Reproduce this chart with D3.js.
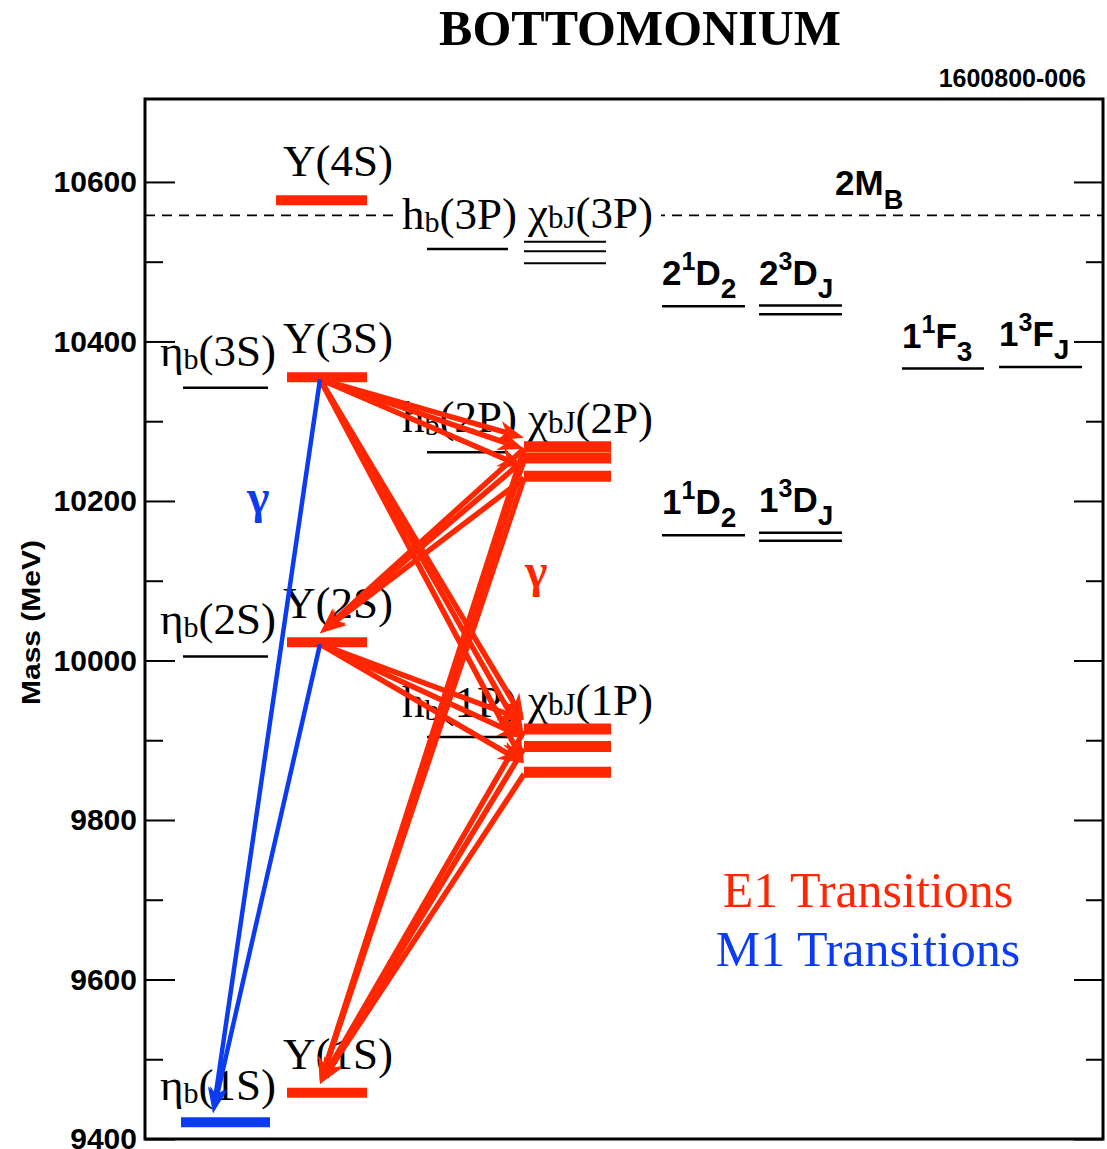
<!DOCTYPE html>
<html>
<head>
<meta charset="utf-8">
<script src="https://cdn.jsdelivr.net/npm/d3@7"></script>
<style>
  html, body { margin: 0; padding: 0; background: #fff; }
  svg { display: block; }
</style>
</head>
<body>
<svg id="chart" width="1107" height="1149"></svg>
<script>
// ---- Level masses (MeV) ----
const upsilonLevels = [["4S", 10577], ["3S", 10355], ["2S", 10023], ["1S", 9458]];
const etaLevels     = [["3S", 10342], ["2S", 10005], ["1S", 9421]];
const hbLevels      = [["3P", 10516], ["2P", 10261], ["1P", 9904]];
const chiLevels     = [["3P", [10525, 10513, 10498]], ["2P", [10268, 10254, 10231]], ["1P", [9914, 9892, 9860]]];
const dfSinglets    = [["2", "D", "2", 10444], ["1", "D", "2", 10157], ["1", "F", "3", 10366]];
const dfTriplets    = [["2", "D", [10445, 10434]], ["1", "D", [10160, 10150]], ["1", "F", [10368]]];
const threshold2MB  = 10558;

// ---- Radiative transitions ----
const e1Transitions = [
  ["Υ(3S)", "χbJ(2P)"], ["Υ(3S)", "χbJ(1P)"],
  ["χbJ(2P)", "Υ(2S)"], ["χbJ(2P)", "Υ(1S)"],
  ["Υ(2S)", "χbJ(1P)"], ["χbJ(1P)", "Υ(1S)"]
];
const m1Transitions = [["Υ(3S)", "ηb(1S)"], ["Υ(2S)", "ηb(1S)"]];

// ---- Axis ticks ----
const majorTicks = [9400, 9600, 9800, 10000, 10200, 10400, 10600];
const minorTicks = [9500, 9700, 9900, 10100, 10300, 10500];

// ---- Layout & styles ----
const RED = "#ff2600", BLUE = "#0b3cf2";
const SERIF = "'Liberation Serif', 'Times New Roman', serif";
const SANS = "'Liberation Sans', Arial, Helvetica, sans-serif";
const LABEL_SIZE = 45;
const frame = { left: 145, right: 1103, top: 99, bottom: 1139 };
const cols = {
  eta: { x0: 183, x1: 268, attach: 213 },
  ups: { x0: 287, x1: 367, attach: 320 },
  hb:  { x0: 427, x1: 508 },
  chi: { x0: 524, x1: 611, attach: 524 },
  D1:  { x0: 662, x1: 745 }, D3: { x0: 759, x1: 842 },
  F1:  { x0: 902, x1: 984 }, F3: { x0: 999, x1: 1082 }
};

const svg = d3.select("#chart");
const y = d3.scaleLinear().domain([9400, 10704]).range([frame.bottom, frame.top]);

// ---- Title and plot id ----
svg.append("text").attr("x", 640).attr("y", 45).attr("text-anchor", "middle")
  .attr("font-family", SERIF).attr("font-weight", "bold").attr("font-size", 50)
  .text("BOTTOMONIUM");
svg.append("text").attr("x", 1086).attr("y", 87).attr("text-anchor", "end")
  .attr("font-family", SANS).attr("font-weight", "bold").attr("font-size", 25)
  .text("1600800-006");

// ---- Axes ----
function styleAxis(g) {
  g.select(".domain").remove();
  g.selectAll(".tick line").attr("stroke", "#000").attr("stroke-width", 2);
  g.selectAll(".tick text").attr("fill", "#000")
    .attr("font-family", SANS).attr("font-weight", "bold").attr("font-size", 30);
}
svg.append("g").attr("transform", `translate(${frame.left},0)`)
  .call(d3.axisLeft(y).tickValues(majorTicks).tickSize(-30).tickPadding(8).tickFormat(d3.format("d")))
  .call(styleAxis);
svg.append("g").attr("transform", `translate(${frame.left},0)`)
  .call(d3.axisLeft(y).tickValues(minorTicks).tickSize(-18).tickFormat(""))
  .call(styleAxis);
svg.append("g").attr("transform", `translate(${frame.right},0)`)
  .call(d3.axisRight(y).tickValues(majorTicks).tickSize(-29).tickFormat(""))
  .call(styleAxis);
svg.append("g").attr("transform", `translate(${frame.right},0)`)
  .call(d3.axisRight(y).tickValues(minorTicks).tickSize(-17).tickFormat(""))
  .call(styleAxis);

svg.append("rect").attr("x", frame.left).attr("y", frame.top)
  .attr("width", frame.right - frame.left).attr("height", frame.bottom - frame.top)
  .attr("fill", "none").attr("stroke", "#000").attr("stroke-width", 3);

svg.append("text")
  .attr("transform", `translate(40,${(540 + 705) / 2}) rotate(-90)`)
  .attr("text-anchor", "middle").attr("font-family", SANS).attr("font-weight", "bold")
  .attr("font-size", 26).attr("textLength", 165).attr("lengthAdjust", "spacingAndGlyphs")
  .text("Mass (MeV)");

// ---- Open-bottom threshold ----
const gThr = svg.append("g");
gThr.append("line").attr("x1", frame.left).attr("x2", frame.right)
  .attr("y1", y(threshold2MB)).attr("y2", y(threshold2MB))
  .attr("stroke", "#000").attr("stroke-width", 1.8).attr("stroke-dasharray", "10,7");

// rich text helper: parts = [text, size?, dy?]
function richText(g, x, yy, parts, font, weight, baseSize, fill) {
  const t = g.append("text").attr("x", x).attr("y", yy)
    .attr("font-family", font).attr("font-weight", weight || "normal")
    .attr("font-size", baseSize).attr("fill", fill || "#000");
  let prev = 0;
  parts.forEach(([s, size, dy]) => {
    const d = dy || 0;
    const ts = t.append("tspan").attr("dy", d - prev).text(s);
    if (size) ts.attr("font-size", size);
    prev = d;
  });
  return t;
}

const gLabels = svg.append("g");
const gLevels = svg.append("g");

function hLine(x0, x1, m, color, w) {
  gLevels.append("line").attr("x1", x0).attr("x2", x1)
    .attr("y1", y(m)).attr("y2", y(m)).attr("stroke", color).attr("stroke-width", w);
}

// S-wave: Upsilon (vector, red) and eta_b (pseudoscalar)
upsilonLevels.forEach(([n, m]) => {
  const x0 = n === "4S" ? cols.ups.x0 - 11 : cols.ups.x0;
  hLine(x0, cols.ups.x1, m, RED, 10);
  richText(gLabels, 283, y(m) - 24, [["Υ(" + n + ")"]], SERIF, "normal", LABEL_SIZE);
});
etaLevels.forEach(([n, m]) => {
  if (n === "1S") hLine(cols.eta.x0 - 2, cols.eta.x1 + 2, m, BLUE, 10);
  else hLine(cols.eta.x0, cols.eta.x1, m, "#000", 2.5);
  richText(gLabels, 160, y(m) - 22, [["η"], ["b", 30, 3], ["(" + n + ")"]], SERIF, "normal", LABEL_SIZE);
});

// P-wave: h_b and chi_bJ
hbLevels.forEach(([n, m]) => {
  hLine(cols.hb.x0, cols.hb.x1, m, "#000", 2.5);
});
const hbText = {};
hbLevels.forEach(([n, m]) => {
  hbText[n] = richText(gLabels, 402, y(m) - 20, [["h"], ["b", 30, 3], ["(" + n + ")"]], SERIF, "normal", LABEL_SIZE);
});
const chiText = {};
chiLevels.forEach(([n, ms]) => {
  ms.forEach(m => {
    if (n === "3P") hLine(cols.chi.x0, cols.chi.x1 - 5, m, "#000", 2);
    else hLine(cols.chi.x0, cols.chi.x1, m, RED, 11);
  });
  chiText[n] = richText(gLabels, 528, y(d3.max(ms)) - 14, [["χ"], ["bJ", 31, 0], ["(" + n + ")"]], SERIF, "normal", LABEL_SIZE);
});

// knock the threshold line out behind the 3P labels
{
  const a = hbText["3P"].node().getBBox(), b = chiText["3P"].node().getBBox();
  gThr.append("rect").attr("x", a.x - 6).attr("y", y(threshold2MB) - 3)
    .attr("width", b.x + b.width + 8 - (a.x - 6)).attr("height", 6).attr("fill", "#fff");
}
richText(gLabels, 835, 195, [["2M"], ["B", 27, 14]], SANS, "bold", 35);

// D- and F-wave
dfSinglets.forEach(([n, L, J, m]) => {
  const c = cols[L + "1"];
  hLine(c.x0, c.x1, m, "#000", 2.5);
  richText(gLabels, c.x0, y(m) - 21, [[n], ["1", 25, -15], [L], [J, 28, 13]], SANS, "bold", 35);
});
dfTriplets.forEach(([n, L, ms]) => {
  const c = cols[L + "3"];
  ms.forEach(m => hLine(c.x0, c.x1, m, "#000", 2.5));
  richText(gLabels, c.x0, y(d3.max(ms)) - 21, [[n], ["3", 25, -15], [L], ["J", 28, 13]], SANS, "bold", 35);
});

// ---- Transition arrows ----
const levelIndex = {};
upsilonLevels.forEach(([n, m]) => levelIndex["Υ(" + n + ")"] = { col: cols.ups, masses: [m] });
etaLevels.forEach(([n, m]) => levelIndex["ηb(" + n + ")"] = { col: cols.eta, masses: [m] });
chiLevels.forEach(([n, ms]) => levelIndex["χbJ(" + n + ")"] = { col: cols.chi, masses: ms });

function arrowsFor(list) {
  const out = [];
  list.forEach(([from, to]) => {
    const a = levelIndex[from], b = levelIndex[to];
    a.masses.forEach(ma => b.masses.forEach(mb => {
      out.push({ x1: a.col.attach, y1: y(ma) + 2, x2: b.col.attach, y2: y(mb) - 9 });
    }));
  });
  return out;
}

function arrowPath(d, hl, hw) {
  const dx = d.x2 - d.x1, dy = d.y2 - d.y1, L = Math.hypot(dx, dy);
  const ux = dx / L, uy = dy / L, nx = -uy, ny = ux;
  const bx = d.x2 - ux * hl, by = d.y2 - uy * hl;
  const kx = d.x2 - ux * hl * 0.7, ky = d.y2 - uy * hl * 0.7;
  return {
    shaft: [d.x1, d.y1, kx, ky],
    head: `M${d.x2},${d.y2}L${bx + nx * hw},${by + ny * hw}L${kx},${ky}L${bx - nx * hw},${by - ny * hw}Z`
  };
}

function drawArrows(data, color, w, hl, hw) {
  const g = svg.append("g");
  const sel = g.selectAll("g.arrow").data(data.map(d => arrowPath(d, hl, hw))).join("g").attr("class", "arrow");
  sel.append("line")
    .attr("x1", d => d.shaft[0]).attr("y1", d => d.shaft[1])
    .attr("x2", d => d.shaft[2]).attr("y2", d => d.shaft[3])
    .attr("stroke", color).attr("stroke-width", w);
  sel.append("path").attr("d", d => d.head).attr("fill", color);
}

drawArrows(arrowsFor(e1Transitions), RED, 5.5, 26, 10);
drawArrows(arrowsFor(m1Transitions), BLUE, 4.5, 26, 9);

// ---- Photon labels and legend ----
svg.append("text").attr("x", 247).attr("y", 513).attr("font-family", SERIF)
  .attr("font-weight", "bold").attr("font-size", 48).attr("fill", BLUE).text("γ");
svg.append("text").attr("x", 525).attr("y", 587).attr("font-family", SERIF)
  .attr("font-weight", "bold").attr("font-size", 48).attr("fill", RED).text("γ");

svg.append("text").attr("x", 868).attr("y", 907).attr("text-anchor", "middle")
  .attr("font-family", SERIF).attr("font-size", 50).attr("fill", RED).text("E1 Transitions");
svg.append("text").attr("x", 868).attr("y", 966).attr("text-anchor", "middle")
  .attr("font-family", SERIF).attr("font-size", 50).attr("fill", BLUE).text("M1 Transitions");
</script>
</body>
</html>
